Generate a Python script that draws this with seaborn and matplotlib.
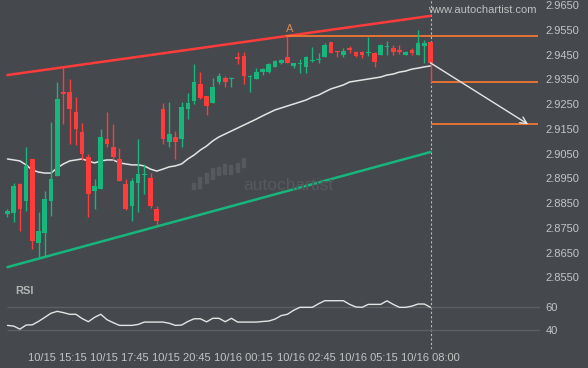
import matplotlib
matplotlib.use("Agg")
import matplotlib.pyplot as plt
from matplotlib.patches import Rectangle
import seaborn as sns
import numpy as np
import pandas as pd

# ---------------- data ----------------
opens = [2.8806, 2.8810, 2.8927, 2.8858, 2.9028, 2.8688, 2.8729, 2.8858, 2.8959, 2.9299,
         2.9299, 2.9218, 2.9137, 2.9036, 2.8899, 2.8907, 2.9109, 2.9076, 2.9028, 2.8927,
         2.8838, 2.8931, 2.8963, 2.8951, 2.8826, 2.9230, 2.9097, 2.9117, 2.9109, 2.9230,
         2.9262, 2.9331, 2.9282, 2.9254, 2.9339, 2.9355, 2.9351, 2.9440, 2.9444, 2.9359,
         2.9351, 2.9379, 2.9379, 2.9400, 2.9416, 2.9440, 2.9404, 2.9412, 2.9400, 2.9424,
         2.9428, 2.9440, 2.9501, 2.9464, 2.9448, 2.9476, 2.9460, 2.9460, 2.9458, 2.9456,
         2.9448, 2.9482, 2.9476, 2.9468, 2.9448, 2.9468, 2.9448, 2.9484, 2.9501]
highs = [2.8826, 2.8931, 2.8931, 2.9076, 2.9028, 2.8814, 2.8899, 2.9177, 2.9339, 2.9400,
         2.9351, 2.9278, 2.9173, 2.9048, 2.8947, 2.9149, 2.9218, 2.9169, 2.9072, 2.8947,
         2.8951, 2.9109, 2.9008, 2.8971, 2.8838, 2.9254, 2.9258, 2.9141, 2.9258, 2.9295,
         2.9412, 2.9379, 2.9282, 2.9355, 2.9375, 2.9363, 2.9359, 2.9460, 2.9460, 2.9367,
         2.9395, 2.9395, 2.9416, 2.9428, 2.9432, 2.9525, 2.9416, 2.9432, 2.9444, 2.9480,
         2.9456, 2.9497, 2.9501, 2.9464, 2.9476, 2.9484, 2.9464, 2.9464, 2.9521, 2.9460,
         2.9492, 2.9505, 2.9488, 2.9488, 2.9464, 2.9476, 2.9549, 2.9509, 2.9501]
lows = [2.8793, 2.8773, 2.8737, 2.8818, 2.8664, 2.8632, 2.8632, 2.8797, 2.8959, 2.9169,
        2.9088, 2.9084, 2.9024, 2.8793, 2.8826, 2.8907, 2.9076, 2.9024, 2.8939, 2.8822,
        2.8777, 2.8814, 2.8886, 2.8830, 2.8761, 2.9088, 2.9076, 2.9028, 2.9076, 2.9189,
        2.9250, 2.9270, 2.9206, 2.9254, 2.9331, 2.9319, 2.9319, 2.9412, 2.9331, 2.9299,
        2.9351, 2.9367, 2.9375, 2.9400, 2.9412, 2.9416, 2.9395, 2.9375, 2.9375, 2.9420,
        2.9416, 2.9440, 2.9456, 2.9440, 2.9440, 2.9456, 2.9440, 2.9436, 2.9444, 2.9400,
        2.9448, 2.9448, 2.9448, 2.9452, 2.9448, 2.9448, 2.9448, 2.9416, 2.9339]
closes = [2.8818, 2.8919, 2.8826, 2.9000, 2.8697, 2.8737, 2.8866, 2.8947, 2.9270, 2.9290,
          2.9230, 2.9149, 2.9048, 2.8886, 2.8919, 2.9117, 2.9088, 2.9036, 2.8939, 2.8826,
          2.8939, 2.8967, 2.8965, 2.8838, 2.8777, 2.9109, 2.9129, 2.9097, 2.9238, 2.9254,
          2.9339, 2.9274, 2.9242, 2.9319, 2.9363, 2.9339, 2.9357, 2.9432, 2.9363, 2.9361,
          2.9379, 2.9391, 2.9412, 2.9424, 2.9428, 2.9416, 2.9416, 2.9416, 2.9440, 2.9428,
          2.9432, 2.9488, 2.9456, 2.9460, 2.9464, 2.9468, 2.9444, 2.9448, 2.9460, 2.9420,
          2.9488, 2.9484, 2.9460, 2.9460, 2.9460, 2.9456, 2.9497, 2.9497, 2.9416]
moving_avg = [2.9028, 2.9024, 2.9020, 2.9004, 2.8983, 2.8975, 2.8971, 2.8971, 2.8992, 2.9008,
              2.9020, 2.9024, 2.9028, 2.9020, 2.9012, 2.9020, 2.9024, 2.9024, 2.9012, 2.9008,
              2.9004, 2.9004, 2.9000, 2.8987, 2.8979, 2.8987, 2.8996, 2.9000, 2.9008, 2.9028,
              2.9044, 2.9064, 2.9080, 2.9101, 2.9117, 2.9129, 2.9141, 2.9153, 2.9165, 2.9177,
              2.9189, 2.9202, 2.9214, 2.9226, 2.9234, 2.9242, 2.9250, 2.9258, 2.9266, 2.9278,
              2.9286, 2.9299, 2.9311, 2.9319, 2.9327, 2.9339, 2.9343, 2.9347, 2.9351, 2.9355,
              2.9359, 2.9367, 2.9371, 2.9379, 2.9383, 2.9391, 2.9395, 2.9400, 2.9404]
rsi = [44.2, 43.6, 41.0, 44.5, 44.7, 47.6, 51.0, 54.5, 56.1, 55.0,
       53.6, 53.6, 50.0, 47.3, 51.0, 53.6, 49.0, 46.5, 44.2, 44.2,
       44.2, 45.0, 47.0, 47.0, 47.0, 47.0, 46.0, 44.2, 44.5, 47.5,
       49.8, 49.8, 47.2, 50.2, 50.2, 47.3, 50.2, 47.0, 47.0, 47.0,
       47.0, 47.5, 47.9, 49.5, 52.5, 53.6, 57.0, 59.5, 59.5, 59.5,
       62.5, 65.1, 65.1, 65.1, 65.1, 62.0, 59.8, 59.5, 62.0, 62.0,
       62.0, 65.0, 62.0, 59.5, 59.5, 60.5, 62.3, 62.3, 59.5]

tick_labels = ["10/15 15:15", "10/15 17:45", "10/15 20:45", "10/16 00:15",
               "10/16 02:45", "10/16 05:15", "10/16 08:00"]
tick_candles = [8, 18, 28, 38, 48, 58, 68]
price_ticks = [2.8550, 2.8650, 2.8750, 2.8850, 2.8950, 2.9050,
               2.9150, 2.9250, 2.9350, 2.9450, 2.9550, 2.9650]

upper_channel = [2.9367, 2.9606]
lower_channel = [2.8591, 2.9056]
channel_candles = [0, 68]
levels = [2.9525, 2.9338, 2.9168]
level_start = [44.8, 68, 68]
level_end = 85.3
forecast_start = (68, 2.9416)
forecast_end = (83.7, 2.9168)
point_a = (45.3, 2.9525)

# ---------------- style ----------------
BG = '#45484d'
GREEN = '#17b67c'
RED = '#ff3c3c'
ORANGE = '#ff7a30'
LABEL = '#c4c4c4'

sns.set_theme(style="dark", rc={"axes.facecolor": BG, "figure.facecolor": BG,
                                "axes.grid": False})
plt.rcParams['font.family'] = ['Liberation Sans', 'DejaVu Sans']

df = pd.DataFrame({"i": np.arange(len(opens)), "open": opens, "high": highs,
                   "low": lows, "close": closes, "ma": moving_avg, "rsi": rsi})
df["up"] = df["close"] >= df["open"]
df["color"] = np.where(df["up"], GREEN, RED)
df["bottom"] = df[["open", "close"]].min(axis=1)
df["height"] = (df["close"] - df["open"]).abs().clip(lower=0.0004)

fig = plt.figure(figsize=(5.88, 3.68), dpi=100, facecolor=BG)
W, H = 588, 368
ax = fig.add_axes([0, 1 - 283 / H, 540 / W, 283 / H])
ax2 = fig.add_axes([0, 1 - 349 / H, 540 / W, 66 / H])

xmin, xmax = -1.2, 85.6
for a in (ax, ax2):
    a.set_facecolor(BG)
    for s in a.spines.values():
        s.set_visible(False)
    a.set_xlim(xmin, xmax)

# watermark
fig.text(288 / W, 1 - 186 / H, "autochartist", color='#56595e', fontsize=12.5,
         ha='center', va='center', zorder=0)
bar_x = [192, 198, 205, 211, 217, 223, 229, 236, 242]
bar_top = [183, 177, 173, 168, 167, 164, 165, 163, 158]
bar_bot = [189, 188, 183, 179, 175, 174, 174, 172, 167]
for bx, bt, bb in zip(bar_x, bar_top, bar_bot):
    fig.patches.append(Rectangle((bx / W, 1 - bb / H), 3 / W, (bb - bt) / H,
                                 transform=fig.transFigure, color='#56595e', zorder=0))

# channel lines
ax.plot(channel_candles, upper_channel, color=RED, lw=1.8, zorder=2)
ax.plot(channel_candles, lower_channel, color=GREEN, lw=1.8, zorder=2)

# moving average
sns.lineplot(data=df, x="i", y="ma", ax=ax, color='#e4e4e4', lw=1.1,
             estimator=None, sort=False, zorder=3)

# candles
ax.vlines(df["i"], df["low"], df["high"], colors=df["color"], lw=1, zorder=4)
ax.bar(df["i"], df["height"], bottom=df["bottom"], width=0.75, color=df["color"],
       linewidth=0, zorder=5)

# levels
for lv, st in zip(levels, level_start):
    ax.hlines(lv, st, level_end, color=ORANGE, lw=1.2, zorder=3)
ax.annotate("", xy=forecast_end, xytext=forecast_start,
            arrowprops=dict(arrowstyle='->', color='#e6e6e6', lw=1,
                            mutation_scale=12, shrinkA=0, shrinkB=0), zorder=6)
ax.text(point_a[0], point_a[1] + 0.0009, "A", color='#e0884f', fontsize=8,
        ha='center', va='bottom')

ax.axvline(68, color='#bdbdbd', lw=0.8, ls=(0, (2, 2)), zorder=1)
ax2.axvline(68, color='#bdbdbd', lw=0.8, ls=(0, (2, 2)), zorder=1)

ax.set_ylim(2.96702 - 283 * 0.000404, 2.96702)
ax.yaxis.tick_right()
ax.set_yticks(price_ticks)
ax.set_yticklabels([f"{p:.4f}" for p in price_ticks])
ax.tick_params(axis='y', length=0, pad=4, labelcolor=LABEL, labelsize=8)
ax.set_xticks([])
ax.set_xlabel("")
ax.set_ylabel("")

# RSI panel
ax2.hlines([60, 40], 0, xmax, color='#5c5f64', lw=1, zorder=1)
sns.lineplot(data=df, x="i", y="rsi", ax=ax2, color='#e4e4e4', lw=1,
             estimator=None, sort=False, zorder=3)
ax2.set_ylim(24.2, 80.1)
ax2.yaxis.tick_right()
ax2.set_yticks([40, 60])
ax2.set_yticklabels(["40", "60"])
ax2.set_xticks(tick_candles)
ax2.set_xticklabels(tick_labels)
ax2.tick_params(axis='both', length=0, labelcolor=LABEL, labelsize=8)
ax2.tick_params(axis='y', pad=4)
ax2.tick_params(axis='x', pad=3)
ax2.set_xlabel("")
ax2.set_ylabel("")

fig.text(15 / W, 1 - 291 / H, "RSI", color='#b4b4b4', fontsize=8, fontweight='bold',
         ha='left', va='center')
fig.text(482 / W, 1 - 10 / H, "www.autochartist.com", color='#c0c0c0', fontsize=8,
         ha='center', va='center')

fig.savefig("out.png", dpi=100, facecolor=BG)
